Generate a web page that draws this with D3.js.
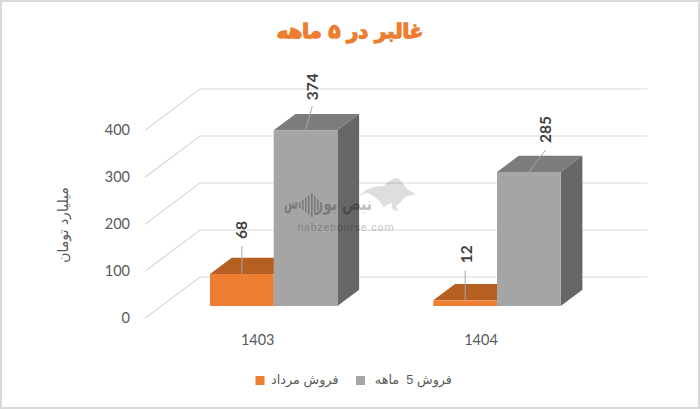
<!DOCTYPE html>
<html><head><meta charset="utf-8">
<script src="https://cdn.jsdelivr.net/npm/d3@7"></script>
<style>html,body{margin:0;padding:0;background:#fff}svg{display:block}</style>
</head><body><svg id="c" width="700" height="409"></svg>
<script>
const categories = ["1403","1404"];
const seriesNames = ["فروش مرداد","فروش 5  ماهه"];
const mordad = [68,12];
const fiveMonths = [374,285];
const yTicks = [0,100,200,300,400];
const titleText = "غالبر در ۵ ماهه";
const yTitle = "میلیارد تومان";

const svg = d3.select("#c");
const W=700,H=409;
svg.append("rect").attr("width",W).attr("height",H).attr("fill","#fff");
// outer frame
svg.append("rect").attr("x",1).attr("y",1).attr("width",W-2).attr("height",H-2)
  .attr("fill","none").attr("stroke","#d9d9d9").attr("stroke-width",2);

const y = d3.scaleLinear().domain([0,400]).range([318.3,130.3]);
const barBase = -12.3;
const barW = 63.7;
const depth = {dx:55,dy:-41.3};
const barDepth = {dx:21.7,dy:-16.3};

// gridlines
const grid = svg.append("g").attr("fill","none").attr("stroke","#d9d9d9").attr("stroke-width",1.2);
yTicks.forEach(t=>{
  grid.append("path").attr("d",`M${145},${y(t)}L${145+depth.dx},${y(t)+depth.dy}H647.3`);
});
// tick labels
svg.append("g").selectAll("text").data(yTicks).join("text")
  .attr("x",130).attr("y",t=>y(t)+5).attr("text-anchor","end")
  .attr("font-family","Lato").attr("font-size",14.5).attr("fill","#595959").text(d=>d);
// axis title
svg.append("text").attr("transform","translate(68,225) rotate(-90)").attr("text-anchor","middle")
  .attr("font-family","DejaVu Sans").attr("font-size",14).attr("fill","#595959").attr("direction","rtl").text(yTitle);
// title
svg.append("text").attr("x",350).attr("y",38).attr("text-anchor","middle").attr("direction","rtl")
  .attr("font-family","DejaVu Sans").attr("font-weight","bold").attr("font-size",19.5).attr("fill","#ED7D31")
  .attr("stroke","#ED7D31").attr("stroke-width",1.4).text(titleText);

function bar(x,v,cols){
  const yT=y(v)+barBase, yB=y(0)+barBase, dx=barDepth.dx, dy=barDepth.dy, g=svg.append("g");
  g.append("path").attr("fill",cols[1]).attr("d",`M${x},${yT}l${dx},${dy}h${barW}l${-dx},${-dy}z`);
  g.append("path").attr("fill",cols[2]).attr("d",`M${x+barW},${yT}l${dx},${dy}V${yB+dy}l${-dx},${-dy}z`);
  g.append("rect").attr("x",x).attr("y",yT).attr("width",barW).attr("height",yB-yT).attr("fill",cols[0]);
}
const orange=["#ED7D31","#B55F23","#B55F23"], gray=["#A5A5A5","#7C7C7C","#676767"];
const gx = d3.scaleOrdinal().domain(categories).range([210,433.3]);
categories.forEach((c,i)=>{
  bar(gx(c),mordad[i],orange);
  bar(gx(c)+barW,fiveMonths[i],gray);
});
// category labels
svg.append("g").selectAll("text").data(categories).join("text")
  .attr("x",c=>gx(c)+47.7).attr("y",345).attr("text-anchor","middle")
  .attr("font-family","Lato").attr("font-size",14.5).attr("fill","#595959").text(d=>d);

// data labels with leader lines
const leader = [
 {v:mordad[0],base:gx(categories[0])+barW/2,dx:0,len:28,lx:0,gap:7},
 {v:fiveMonths[0],base:gx(categories[0])+barW*1.5,dx:6.7,len:24,lx:0,gap:6},
 {v:mordad[1],base:gx(categories[1])+barW/2,dx:0,len:30,lx:1,gap:7},
 {v:fiveMonths[1],base:gx(categories[1])+barW*1.5,dx:16.7,len:22,lx:0,gap:7},
];
leader.forEach(l=>{
  const yT=y(l.v)+barBase;
  svg.append("line").attr("x1",l.base).attr("y1",yT).attr("x2",l.base+l.dx).attr("y2",yT-l.len)
    .attr("stroke","#a6a6a6").attr("stroke-width",1);
  svg.append("text").attr("transform",`translate(${l.base+l.dx+l.lx+5.5},${yT-l.len-l.gap}) rotate(-90)`)
    .attr("font-family","Lato").attr("font-weight","bold").attr("font-size",15.5).attr("fill","#404040").text(l.v);
});

// legend
const legFont='"Liberation Sans","DejaVu Sans"';
const leg=svg.append("g");
leg.append("rect").attr("x",255.5).attr("y",376).attr("width",9).attr("height",9).attr("fill","#ED7D31");
leg.append("text").attr("x",338.5).attr("y",384).attr("font-family",legFont).attr("font-size",12.8)
 .attr("fill","#595959").attr("direction","rtl").attr("text-anchor","start").text(seriesNames[0]);
leg.append("rect").attr("x",356).attr("y",376).attr("width",9).attr("height",9).attr("fill","#A5A5A5");
leg.append("text").attr("x",452).attr("y",384).attr("font-family",legFont).attr("font-size",12.8)
 .attr("fill","#595959").attr("direction","rtl").attr("text-anchor","start").style("white-space","pre").text(seriesNames[1]);

// watermark
const wm=svg.append("g");
wm.append("path").attr("fill","#000").attr("opacity",0.13).attr("d","M358,197C366,188 374,186 384,186C388,181 392,179 397,178C401,180 404,184 406,188C409,190 412,192 416,194C412,196 408,195 405,197C402,201 399,204 396,206L398,211C393,211 391,209 392,203C388,204 385,206 384,208C380,200 372,194 366,193C363,194 360,196 358,197Z");
const wmt=wm.append("g").attr("opacity",0.25);
wmt.append("text").attr("transform","translate(372,210) scale(0.82,1.15)").attr("text-anchor","start").attr("direction","rtl")
 .attr("font-family","DejaVu Sans").attr("font-weight","bold").attr("font-size",17).attr("fill","#000").text("نبض بور");
wmt.append("text").attr("transform","translate(298,209) scale(0.6,1.1)").attr("text-anchor","start").attr("direction","rtl")
 .attr("font-family","DejaVu Sans").attr("font-weight","bold").attr("font-size",17).attr("fill","#000").text("س");
[[299,6],[302,10],[305,15],[308,20],[311,24],[314,17],[317,11],[320,6]].forEach(([bx,bh])=>{
  wmt.append("rect").attr("x",bx).attr("y",205-bh/2).attr("width",1.6).attr("height",bh).attr("fill","#000");
});
wm.append("text").attr("x",346).attr("y",231).attr("text-anchor","middle").attr("letter-spacing",0.9).attr("opacity",0.22)
 .attr("font-family","Roboto").attr("font-size",10.5).attr("fill","#000").text("nabzebourse.com");
</script></body></html>
